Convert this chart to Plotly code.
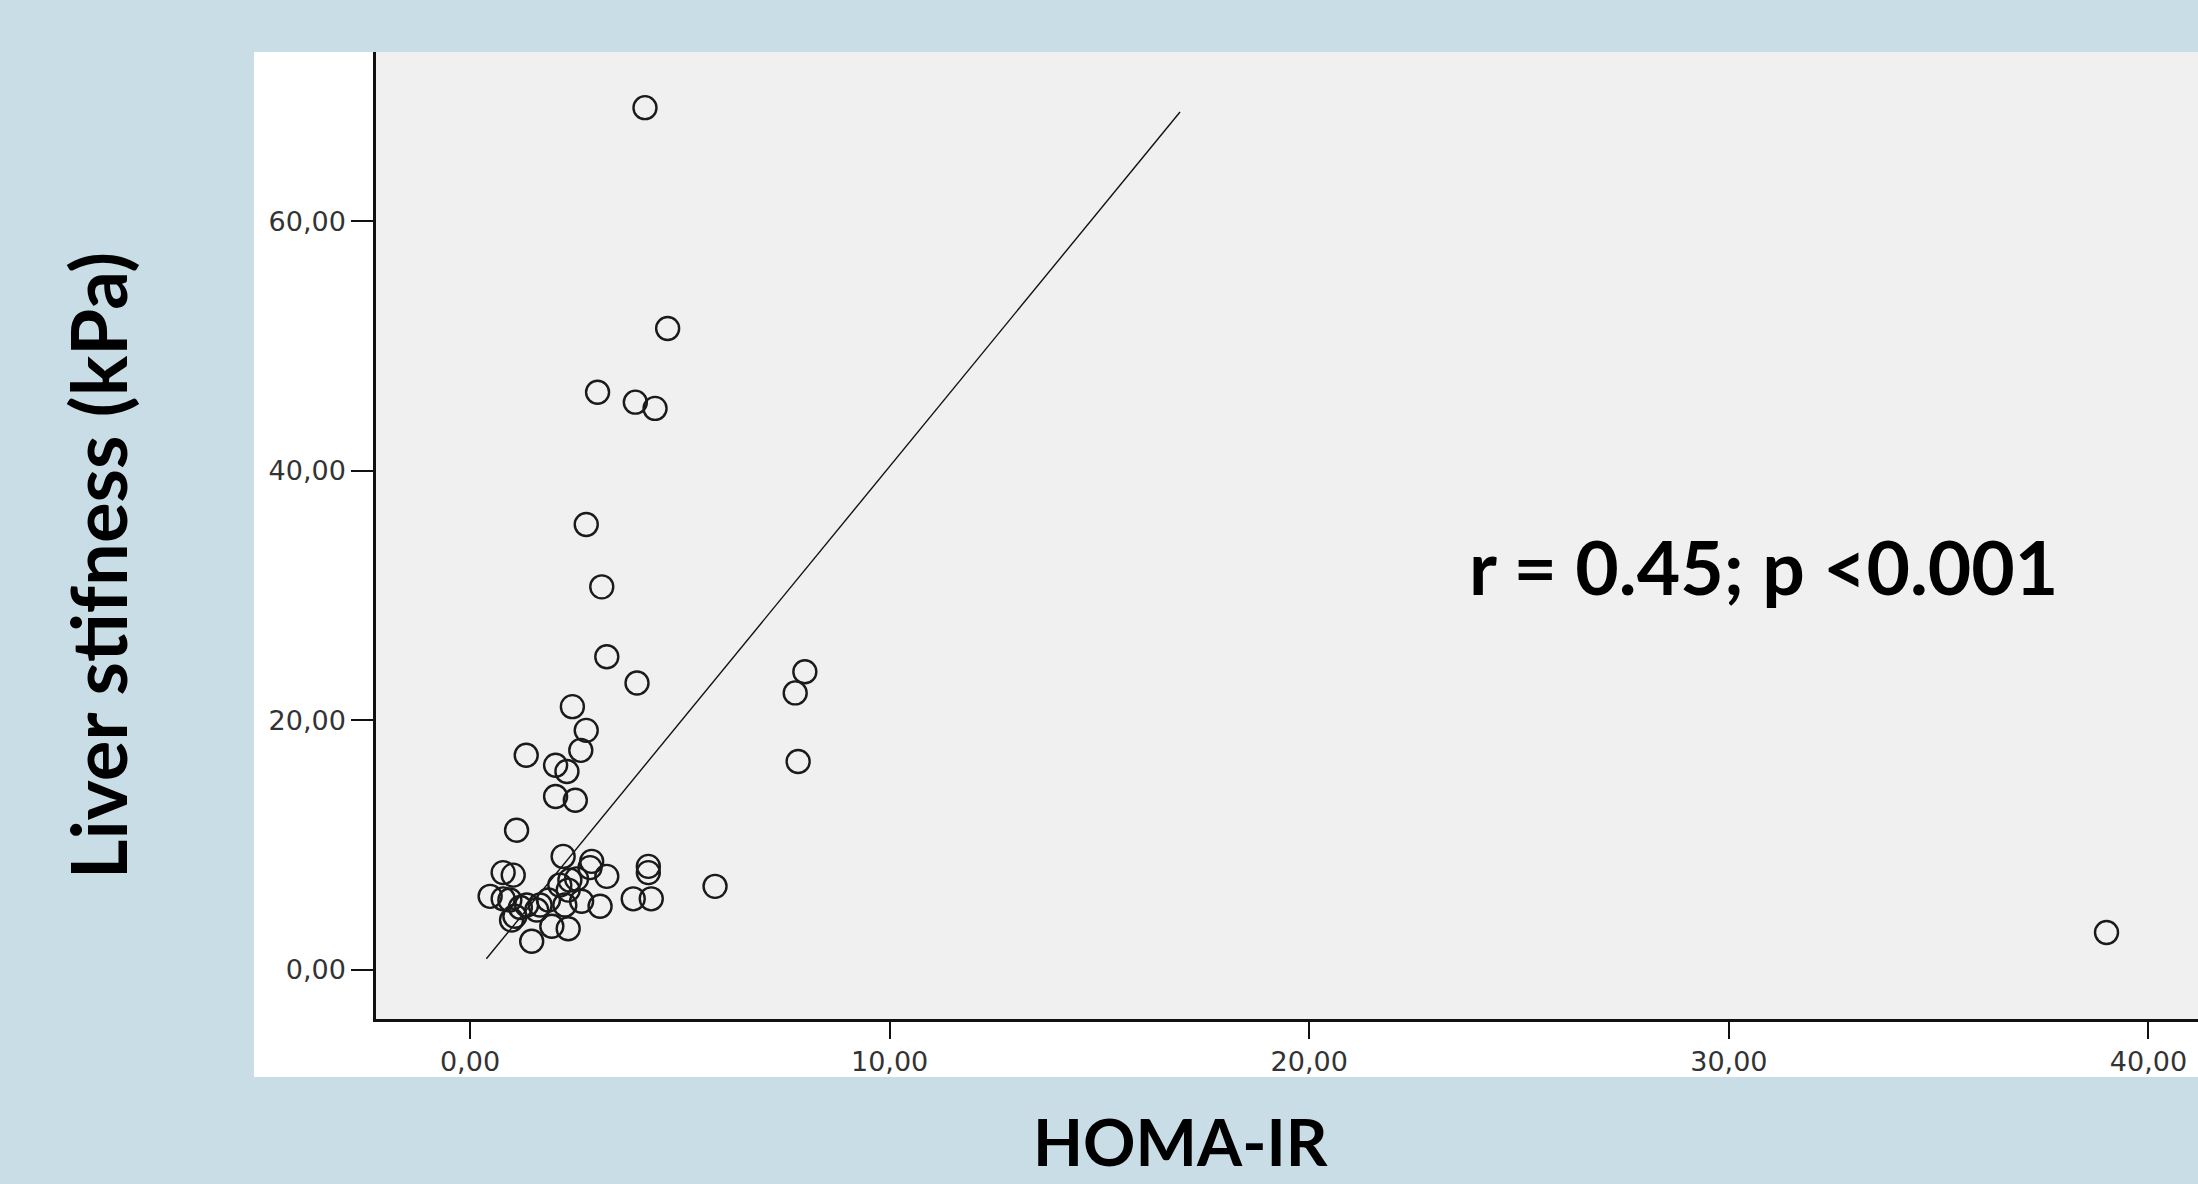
import plotly.graph_objects as go

# HOMA-IR (x) and liver stiffness in kPa (y)
homa_ir = [4.17, 4.71, 3.04, 3.94, 4.41, 2.77, 3.14, 3.26, 3.98, 7.98, 7.75, 7.82,
           2.44, 2.77, 2.64, 1.34, 2.04, 2.31, 2.04, 2.51, 1.11, 5.84, 39.0,
           2.22, 2.90, 2.86, 3.26, 4.25, 4.25, 0.79, 1.03, 2.38, 2.54, 2.14, 2.34,
           0.48, 0.79, 0.95, 1.35, 1.67, 1.87, 2.26, 2.66, 3.10, 3.89, 4.32,
           0.99, 1.07, 1.95, 2.34, 1.47, 1.59, 1.20]
stiffness = [69.1, 51.4, 46.3, 45.5, 45.0, 35.7, 30.7, 25.1, 23.0, 23.9, 22.2, 16.7,
             21.1, 19.2, 17.6, 17.2, 16.4, 15.9, 13.9, 13.6, 11.2, 6.7, 3.0,
             9.1, 8.7, 8.2, 7.5, 8.3, 7.8, 7.8, 7.6, 7.2, 7.3, 6.8, 6.4,
             5.9, 5.7, 5.6, 5.2, 5.2, 5.6, 5.2, 5.5, 5.1, 5.7, 5.7,
             4.0, 4.3, 3.5, 3.3, 2.3, 4.8, 5.0]

# fit line end points as drawn
fit_x = [0.39, 16.92]
fit_y = [0.9, 68.75]

x_ticks = [0, 10, 20, 30, 40]
x_tick_text = ["0,00", "10,00", "20,00", "30,00", "40,00"]
y_ticks = [0, 20, 40, 60]
y_tick_text = ["0,00", "20,00", "40,00", "60,00"]

W, H = 2198, 1184
L, R, T, B = 376, 0, 52, 165
PW, PH = W - L - R, H - T - B


def px_x(p):
    return (p - L) / PW


def px_y(p):
    return 1 - (p - T) / PH


fig = go.Figure()
fig.add_trace(go.Scatter(
    x=fit_x, y=fit_y, mode="lines",
    line=dict(color="#111111", width=1.4), showlegend=False, hoverinfo="skip"))
fig.add_trace(go.Scatter(
    x=homa_ir, y=stiffness, mode="markers",
    marker=dict(symbol="circle-open", size=23, color="#1a1a1a", line=dict(width=2.4)),
    showlegend=False))

tickfont = dict(family="DejaVu Sans", size=27, color="#333333")
fig.update_xaxes(
    range=[-2.24, 41.18], tickvals=x_ticks, ticktext=x_tick_text,
    ticks="outside", ticklen=17, tickwidth=2, tickcolor="#111111",
    showline=True, linecolor="#111111", linewidth=2.5,
    showgrid=False, zeroline=False, tickfont=tickfont)
fig.update_yaxes(
    range=[-3.93, 73.56], tickvals=y_ticks, ticktext=y_tick_text,
    ticks="outside", ticklen=22, tickwidth=2, tickcolor="#111111",
    showline=True, linecolor="#111111", linewidth=2.5,
    showgrid=False, zeroline=False, tickfont=tickfont)

fig.update_layout(
    width=W, height=H,
    margin=dict(l=L, r=R, t=T, b=B, pad=0),
    paper_bgcolor="#C9DDE6",
    plot_bgcolor="rgba(0,0,0,0)",
    shapes=[
        dict(type="rect", xref="paper", yref="paper",
             x0=px_x(254), x1=px_x(W), y0=px_y(1077), y1=px_y(T),
             fillcolor="white", line=dict(width=0), layer="below"),
        dict(type="rect", xref="paper", yref="paper",
             x0=0, x1=1, y0=0, y1=1,
             fillcolor="#F0F0F0", line=dict(width=0), layer="below"),
    ],
    annotations=[
        dict(text="<b>r = 0.45; p <0.001</b>", xref="paper", yref="paper",
             x=px_x(1763), y=px_y(566), xanchor="center", yanchor="middle",
             showarrow=False, font=dict(family="Lato", size=75, color="black")),
        dict(text="<b>Liver stifness (kPa)</b>", xref="paper", yref="paper",
             x=px_x(97), y=px_y(566), xanchor="center", yanchor="middle",
             textangle=-90, showarrow=False,
             font=dict(family="Lato", size=76, color="black")),
        dict(text="<b>HOMA-IR</b>", xref="paper", yref="paper",
             x=px_x(1180), y=px_y(1141), xanchor="center", yanchor="middle",
             showarrow=False, font=dict(family="Lato", size=65, color="black")),
    ],
)

fig.write_html("out.html", config={"displayModeBar": False},
               post_script="document.body.style.margin='0';document.body.style.overflow='hidden';")
